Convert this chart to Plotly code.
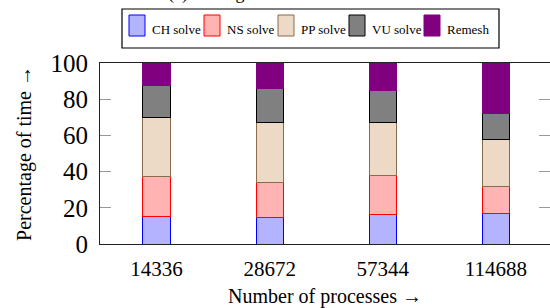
import plotly.graph_objects as go

# ---- data ----
processes = ["14336", "28672", "57344", "114688"]
ch_solve = [15.2, 14.5, 16.3, 17.0]
ns_solve = [22.2, 19.4, 21.8, 14.5]
pp_solve = [32.5, 33.5, 29.1, 26.4]
vu_solve = [17.8, 18.5, 17.6, 14.1]
remesh = [12.3, 14.1, 15.2, 28.0]

series_names = ["CH solve", "NS solve", "PP solve", "VU solve", "Remesh"]
series_values = [ch_solve, ns_solve, pp_solve, vu_solve, remesh]

# ---- styles ----
fills = ["#b3b3ff", "#ffb3b3", "#ecd9c6", "#808080", "#800080"]
lines = ["#0000ff", "#ff0000", "#8c6b4a", "#000000", "#800080"]
FONT = "'Liberation Serif', 'Times New Roman', 'DejaVu Serif', serif"

W, H = 550, 308
ML, MR, MT, MB = 100, 0, 63, 64
PW, PH = W - ML - MR, H - MT - MB


def px_to_paper_x(px):
    return (px - ML) / PW


def px_to_paper_y(py):
    return (H - MB - py) / PH


fig = go.Figure()
for name, vals, fc, lc in zip(series_names, series_values, fills, lines):
    fig.add_trace(go.Bar(
        x=processes, y=vals, name=name, width=0.24,
        marker=dict(color=fc, line=dict(color=lc, width=1)),
        showlegend=False, hoverinfo="skip",
    ))

# ---- manual legend (LaTeX style box) ----
shapes = [dict(type="rect", xref="paper", yref="paper",
               x0=px_to_paper_x(122), x1=px_to_paper_x(499),
               y0=px_to_paper_y(48), y1=px_to_paper_y(9),
               line=dict(color="black", width=1.2), fillcolor="white")]
annotations = []
swatch_left = [129, 204, 278, 349, 424]
for name, sx, fc, lc in zip(series_names, swatch_left, fills, lines):
    shapes.append(dict(type="rect", xref="paper", yref="paper",
                       x0=px_to_paper_x(sx), x1=px_to_paper_x(sx + 16),
                       y0=px_to_paper_y(36), y1=px_to_paper_y(15),
                       line=dict(color=lc, width=1), fillcolor=fc))
    annotations.append(dict(xref="paper", yref="paper",
                            x=px_to_paper_x(sx + 21), y=px_to_paper_y(30),
                            xanchor="left", yanchor="middle", showarrow=False,
                            text=name, font=dict(family=FONT, size=13, color="black")))

# caption (mostly cropped at top of image, as in the reference)
annotations.append(dict(xref="paper", yref="paper", x=px_to_paper_x(295),
                        y=px_to_paper_y(6), xanchor="center", yanchor="bottom",
                        showarrow=False, text="(a) Timing breakdown of the solver",
                        font=dict(family=FONT, size=18, color="black")))

fig.update_layout(
    width=W, height=H,
    margin=dict(l=ML, r=MR, t=MT, b=MB, pad=0, autoexpand=False),
    paper_bgcolor="white", plot_bgcolor="white",
    barmode="stack", bargap=0,
    shapes=shapes, annotations=annotations,
    xaxis=dict(
        type="category", range=[-0.5, 3.478], automargin=False,
        showline=True, linecolor="#222", linewidth=1, mirror=True,
        ticks="", showgrid=False, zeroline=False,
        tickfont=dict(family=FONT, size=21, color="black"),
        ticklabelstandoff=6,
        title=dict(text="Number of processes →", standoff=8,
                   font=dict(family=FONT, size=20, color="black")),
    ),
    yaxis=dict(
        range=[0, 100], tickvals=[0, 20, 40, 60, 80, 100], automargin=False,
        showline=True, linecolor="#222", linewidth=1, mirror="ticks",
        ticks="inside", ticklen=11, tickcolor="#999", tickwidth=1,
        showgrid=False, zeroline=False,
        tickfont=dict(family=FONT, size=25, color="black"),
        ticklabelstandoff=6,
        title=dict(text="Percentage of time →", standoff=13,
                   font=dict(family=FONT, size=20, color="black")),
    ),
)

fig.write_html(
    "out.html",
    config={"displayModeBar": False, "staticPlot": True},
    post_script="document.body.style.margin='0px';document.body.style.padding='0px';",
)
